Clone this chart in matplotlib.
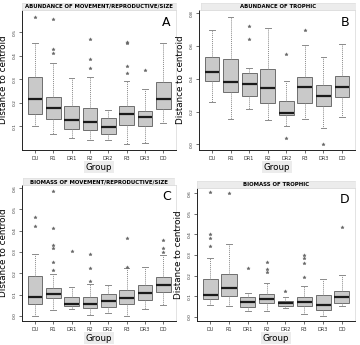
import matplotlib
matplotlib.use("Agg")
import matplotlib.pyplot as plt

groups = ["DU", "R1", "DR1", "R2", "DR2", "R3", "DR3", "DD"]

# Per-group box statistics: (whisker low, Q1, median, Q3, whisker high)
abund_mrs = [
    (0.100, 0.152, 0.216, 0.309, 0.453),
    (0.069, 0.133, 0.178, 0.227, 0.369),
    (0.050, 0.089, 0.128, 0.188, 0.304),
    (0.041, 0.083, 0.118, 0.178, 0.309),
    (0.041, 0.069, 0.099, 0.138, 0.168),
    (0.025, 0.107, 0.152, 0.188, 0.294),
    (0.029, 0.100, 0.140, 0.166, 0.258),
    (0.114, 0.176, 0.217, 0.291, 0.456),
]
abund_mrs_out = [[0.566], [0.555, 0.428, 0.411], [], [0.472, 0.387, 0.350],
                 [], [0.458, 0.455, 0.357, 0.326], [0.340], []]

abund_tro = [
    (0.259, 0.388, 0.443, 0.535, 0.698),
    (0.153, 0.320, 0.382, 0.518, 0.776),
    (0.216, 0.296, 0.371, 0.433, 0.467),
    (0.147, 0.249, 0.345, 0.457, 0.710),
    (0.110, 0.178, 0.192, 0.265, 0.386),
    (0.157, 0.255, 0.349, 0.410, 0.604),
    (0.102, 0.235, 0.296, 0.361, 0.533),
    (0.167, 0.286, 0.347, 0.418, 0.610),
]
abund_tro_out = [[], [], [0.724, 0.643], [], [0.551, 0.041], [0.698], [0.0], []]

biom_mrs = [
    (0.000, 0.058, 0.089, 0.188, 0.292),
    (0.030, 0.086, 0.105, 0.133, 0.199),
    (0.034, 0.045, 0.058, 0.091, 0.136),
    (0.005, 0.039, 0.055, 0.089, 0.152),
    (0.014, 0.042, 0.071, 0.102, 0.146),
    (0.000, 0.055, 0.082, 0.122, 0.223),
    (0.034, 0.074, 0.107, 0.143, 0.230),
    (0.052, 0.110, 0.146, 0.183, 0.285),
]
biom_mrs_out = [[0.466, 0.423], [0.586, 0.415, 0.334, 0.320, 0.254, 0.216],
                [0.306], [0.292, 0.223, 0.165], [], [0.368, 0.232], [],
                [0.356, 0.318, 0.301]]

biom_tro = [
    (0.058, 0.089, 0.104, 0.186, 0.285),
    (0.052, 0.100, 0.139, 0.207, 0.353),
    (0.029, 0.047, 0.071, 0.097, 0.118),
    (0.029, 0.065, 0.089, 0.109, 0.165),
    (0.045, 0.053, 0.065, 0.076, 0.094),
    (0.013, 0.052, 0.071, 0.094, 0.149),
    (0.003, 0.032, 0.060, 0.105, 0.186),
    (0.053, 0.068, 0.096, 0.126, 0.204),
]
biom_tro_out = [[0.605, 0.402, 0.384, 0.344], [0.603], [0.237],
                [0.264, 0.233, 0.216], [0.126], [0.300, 0.285, 0.263, 0.191],
                [], [0.434]]

panels = [
    dict(title="ABUNDANCE OF MOVEMENT/REPRODUCTIVE/SIZE", letter="A",
         stats=abund_mrs, out=abund_mrs_out, ylim=(0.0, 0.595),
         yticks=[0.1, 0.2, 0.3, 0.4, 0.5],
         rect=(22, 10, 176, 150), strip=(22, 3, 176, 10)),
    dict(title="ABUNDANCE OF TROPHIC", letter="B",
         stats=abund_tro, out=abund_tro_out, ylim=(-0.035, 0.82),
         yticks=[0.0, 0.2, 0.4, 0.6, 0.8],
         rect=(199, 10, 355, 150), strip=(201, 3, 355, 10)),
    dict(title="BIOMASS OF MOVEMENT/REPRODUCTIVE/SIZE", letter="C",
         stats=biom_mrs, out=biom_mrs_out, ylim=(-0.024, 0.615),
         yticks=[0.0, 0.1, 0.2, 0.3, 0.4, 0.5, 0.6],
         rect=(22, 185, 176, 321), strip=(23, 178, 174, 185)),
    dict(title="BIOMASS OF TROPHIC", letter="D",
         stats=biom_tro, out=biom_tro_out, ylim=(-0.02, 0.625),
         yticks=[0.0, 0.1, 0.2, 0.3, 0.4, 0.5, 0.6],
         rect=(197, 188, 355, 321), strip=(197, 181, 355, 188)),
]

W, H = 360, 345
fig = plt.figure(figsize=(W / 100, H / 100), dpi=100)
fig.patch.set_facecolor("white")


def frac(x0, y0, x1, y1):
    return [x0 / W, 1 - y1 / H, (x1 - x0) / W, (y1 - y0) / H]


for p in panels:
    ax = fig.add_axes(frac(*p["rect"]))
    bstats = []
    for name, (lo, q1, med, q3, hi), fl in zip(groups, p["stats"], p["out"]):
        bstats.append(dict(label=name, whislo=lo, q1=q1, med=med, q3=q3,
                           whishi=hi, fliers=fl))
    ax.bxp(bstats, positions=range(1, len(groups) + 1), widths=0.8,
           patch_artist=True, showfliers=True,
           boxprops=dict(facecolor="#c9c9c9", edgecolor="#6e6e6e", linewidth=0.7),
           medianprops=dict(color="#1a1a1a", linewidth=1.6),
           whiskerprops=dict(color="#8a8a8a", linewidth=0.7, linestyle=(0, (1, 1))),
           capprops=dict(color="#8a8a8a", linewidth=0.7),
           capwidths=0.3,
           flierprops=dict(marker="*", markersize=2.5, markerfacecolor="#666666",
                           markeredgecolor="#666666", markeredgewidth=0.3))
    ax.set_xlim(0.3, 8.7)
    ax.set_ylim(*p["ylim"])
    ax.set_yticks(p["yticks"])
    ax.set_yticklabels([f"{v:.1f}" for v in p["yticks"]], rotation=90,
                       va="center", fontsize=3.2, color="#333333")
    ax.set_xticks(range(1, len(groups) + 1))
    ax.set_xticklabels(groups, fontsize=3.6, color="#333333")
    ax.tick_params(axis="both", length=2, width=0.5, pad=2, colors="#333333")
    for s in ("top", "right"):
        ax.spines[s].set_color("#d8d8d8")
        ax.spines[s].set_linewidth(0.5)
    for s in ("left", "bottom"):
        ax.spines[s].set_color("#222222")
        ax.spines[s].set_linewidth(0.7)
    ax.text(0.965, 0.96, p["letter"], transform=ax.transAxes, ha="right",
            va="top", fontsize=9)
    ax.set_ylabel("Distance to centroid", fontsize=6.3, labelpad=3)
    ax.set_xlabel("Group", fontsize=6.3, labelpad=1.5,
                  bbox=dict(facecolor="#ececec", edgecolor="none", pad=1.0))

    sx0, sy0, sx1, sy1 = p["strip"]
    sax = fig.add_axes(frac(sx0, sy0, sx1, sy1))
    sax.set_xticks([])
    sax.set_yticks([])
    sax.set_facecolor("#ececec")
    for s in sax.spines.values():
        s.set_color("#dddddd")
        s.set_linewidth(0.4)
    sax.text(0.5, 0.5, p["title"], ha="center", va="center",
             fontsize=3.9, fontweight="bold", transform=sax.transAxes)

fig.savefig("out.png", dpi=100)
